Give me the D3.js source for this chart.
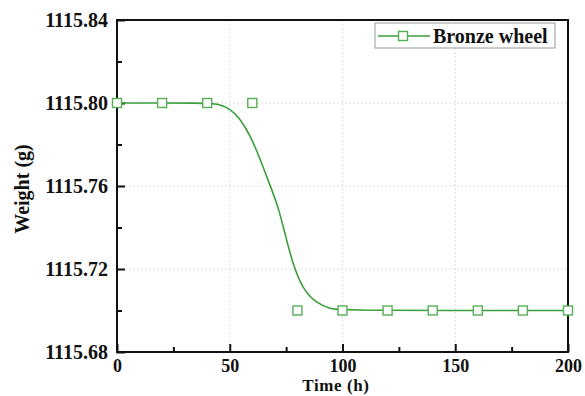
<!DOCTYPE html>
<html>
<head>
<meta charset="utf-8">
<script src="https://cdnjs.cloudflare.com/ajax/libs/d3/7.8.5/d3.min.js"></script>
<style>
body { margin: 0; background: #fff; }
svg { font-family: "Liberation Serif", "DejaVu Serif", serif; font-weight: bold; }
</style>
</head>
<body>
<script>

// measured points (squares)
var timeH = [0, 20, 40, 60, 80, 100, 120, 140, 160, 180, 200];
var weight = [1115.80, 1115.80, 1115.80, 1115.80, 1115.70, 1115.70, 1115.70, 1115.70, 1115.70, 1115.70, 1115.70];

// fitted curve
var fitT = [0, 40, 45, 50, 54.5, 59, 63.4, 67.8, 71.5, 74.5, 78.2, 82.6, 88.5, 94.5, 100, 200];
var fitW = [1115.80, 1115.80, 1115.7995, 1115.7974, 1115.7926, 1115.7846, 1115.7733, 1115.7605, 1115.7500, 1115.7370, 1115.7215, 1115.7099, 1115.7035, 1115.7008, 1115.70, 1115.70];

var xTicks = [0, 50, 100, 150, 200];
var xMinor = [25, 75, 125, 175];
var yTicks = [1115.68, 1115.72, 1115.76, 1115.80, 1115.84];
var yMinor = [1115.70, 1115.74, 1115.78, 1115.82];

var W = 585, H = 396;
var m = {left: 117, top: 20, right: 17, bottom: 44};

var svg = d3.select("body").append("svg")
  .attr("width", W)
  .attr("height", H);

var x = d3.scaleLinear().domain([0, 200]).range([m.left, W - m.right]);
var y = d3.scaleLinear().domain([1115.68, 1115.84]).range([H - m.bottom, m.top]);

// grid
svg.append("g").selectAll("line").data(xTicks.slice(1, -1)).enter().append("line")
  .attr("x1", d => x(d)).attr("x2", d => x(d))
  .attr("y1", y.range()[1]).attr("y2", y.range()[0])
  .attr("stroke", "#dedede").attr("stroke-dasharray", "2,2");
svg.append("g").selectAll("line").data(yTicks.slice(1, -1)).enter().append("line")
  .attr("y1", d => y(d)).attr("y2", d => y(d))
  .attr("x1", x.range()[0]).attr("x2", x.range()[1])
  .attr("stroke", "#dedede").attr("stroke-dasharray", "2,2");

// frame
svg.append("rect")
  .attr("x", x(0)).attr("y", y(1115.84))
  .attr("width", x(200) - x(0)).attr("height", y(1115.68) - y(1115.84))
  .attr("fill", "none").attr("stroke", "#111").attr("stroke-width", 2);

// axes with inward ticks
var xAxis = svg.append("g").attr("transform", "translate(0," + y(1115.68) + ")")
  .call(d3.axisBottom(x).tickValues(xTicks).tickSize(-8).tickPadding(7).tickFormat(d3.format("d")));
xAxis.append("g").call(d3.axisBottom(x).tickValues(xMinor).tickSize(-5).tickFormat(""));
xAxis.selectAll(".tick text").style("font-size", "18px");

var yAxis = svg.append("g").attr("transform", "translate(" + x(0) + ",0)")
  .call(d3.axisLeft(y).tickValues(yTicks).tickSize(-8).tickPadding(9).tickFormat(d3.format(".2f")));
yAxis.append("g").call(d3.axisLeft(y).tickValues(yMinor).tickSize(-5).tickFormat(""));
yAxis.selectAll(".tick text").style("font-size", "20px");

svg.selectAll(".domain").remove();
svg.selectAll(".tick line").attr("stroke", "#111").attr("stroke-width", 2);
svg.selectAll(".tick text")
  .attr("fill", "#111")
  .style("font-family", '"Liberation Serif", serif')
  .style("font-weight", "bold");

// labels
svg.append("text")
  .attr("x", 336).attr("y", 391)
  .attr("text-anchor", "middle")
  .attr("fill", "#111")
  .style("font-size", "17px")
  .style("letter-spacing", "0.6px")
  .text("Time (h)");

svg.append("text")
  .attr("transform", "translate(29,189) rotate(-90)")
  .attr("text-anchor", "middle")
  .attr("fill", "#111")
  .style("font-size", "20px")
  .text("Weight (g)");

// fitted line
var fit = fitT.map((t, i) => [t, fitW[i]]);
svg.append("path")
  .datum(fit)
  .attr("fill", "none")
  .attr("stroke", "#3a9e3a")
  .attr("stroke-width", 1.6)
  .attr("d", d3.line().x(d => x(d[0])).y(d => y(d[1])).curve(d3.curveBasis));

// markers
var pts = timeH.map((t, i) => [t, weight[i]]);
svg.append("g").selectAll("rect").data(pts).enter().append("rect")
  .attr("x", d => x(d[0]) - 4.5)
  .attr("y", d => y(d[1]) - 4.5)
  .attr("width", 9).attr("height", 9)
  .attr("fill", "#fff")
  .attr("stroke", "#55b055")
  .attr("stroke-width", 1.4);

// legend
var lg = svg.append("g").attr("transform", "translate(375,23)");
lg.append("rect").attr("width", 180).attr("height", 25)
  .attr("fill", "#fff").attr("stroke", "#999").attr("stroke-width", 1);
lg.append("line").attr("x1", 3).attr("x2", 55).attr("y1", 13).attr("y2", 13)
  .attr("stroke", "#3a9e3a").attr("stroke-width", 1.6);
lg.append("rect").attr("x", 23.5).attr("y", 8.5).attr("width", 9).attr("height", 9)
  .attr("fill", "#fff").attr("stroke", "#55b055").attr("stroke-width", 1.4);
lg.append("text").attr("x", 58).attr("y", 20)
  .style("font-size", "20px")
  .attr("fill", "#111")
  .text("Bronze wheel");

</script>
</body>
</html>
